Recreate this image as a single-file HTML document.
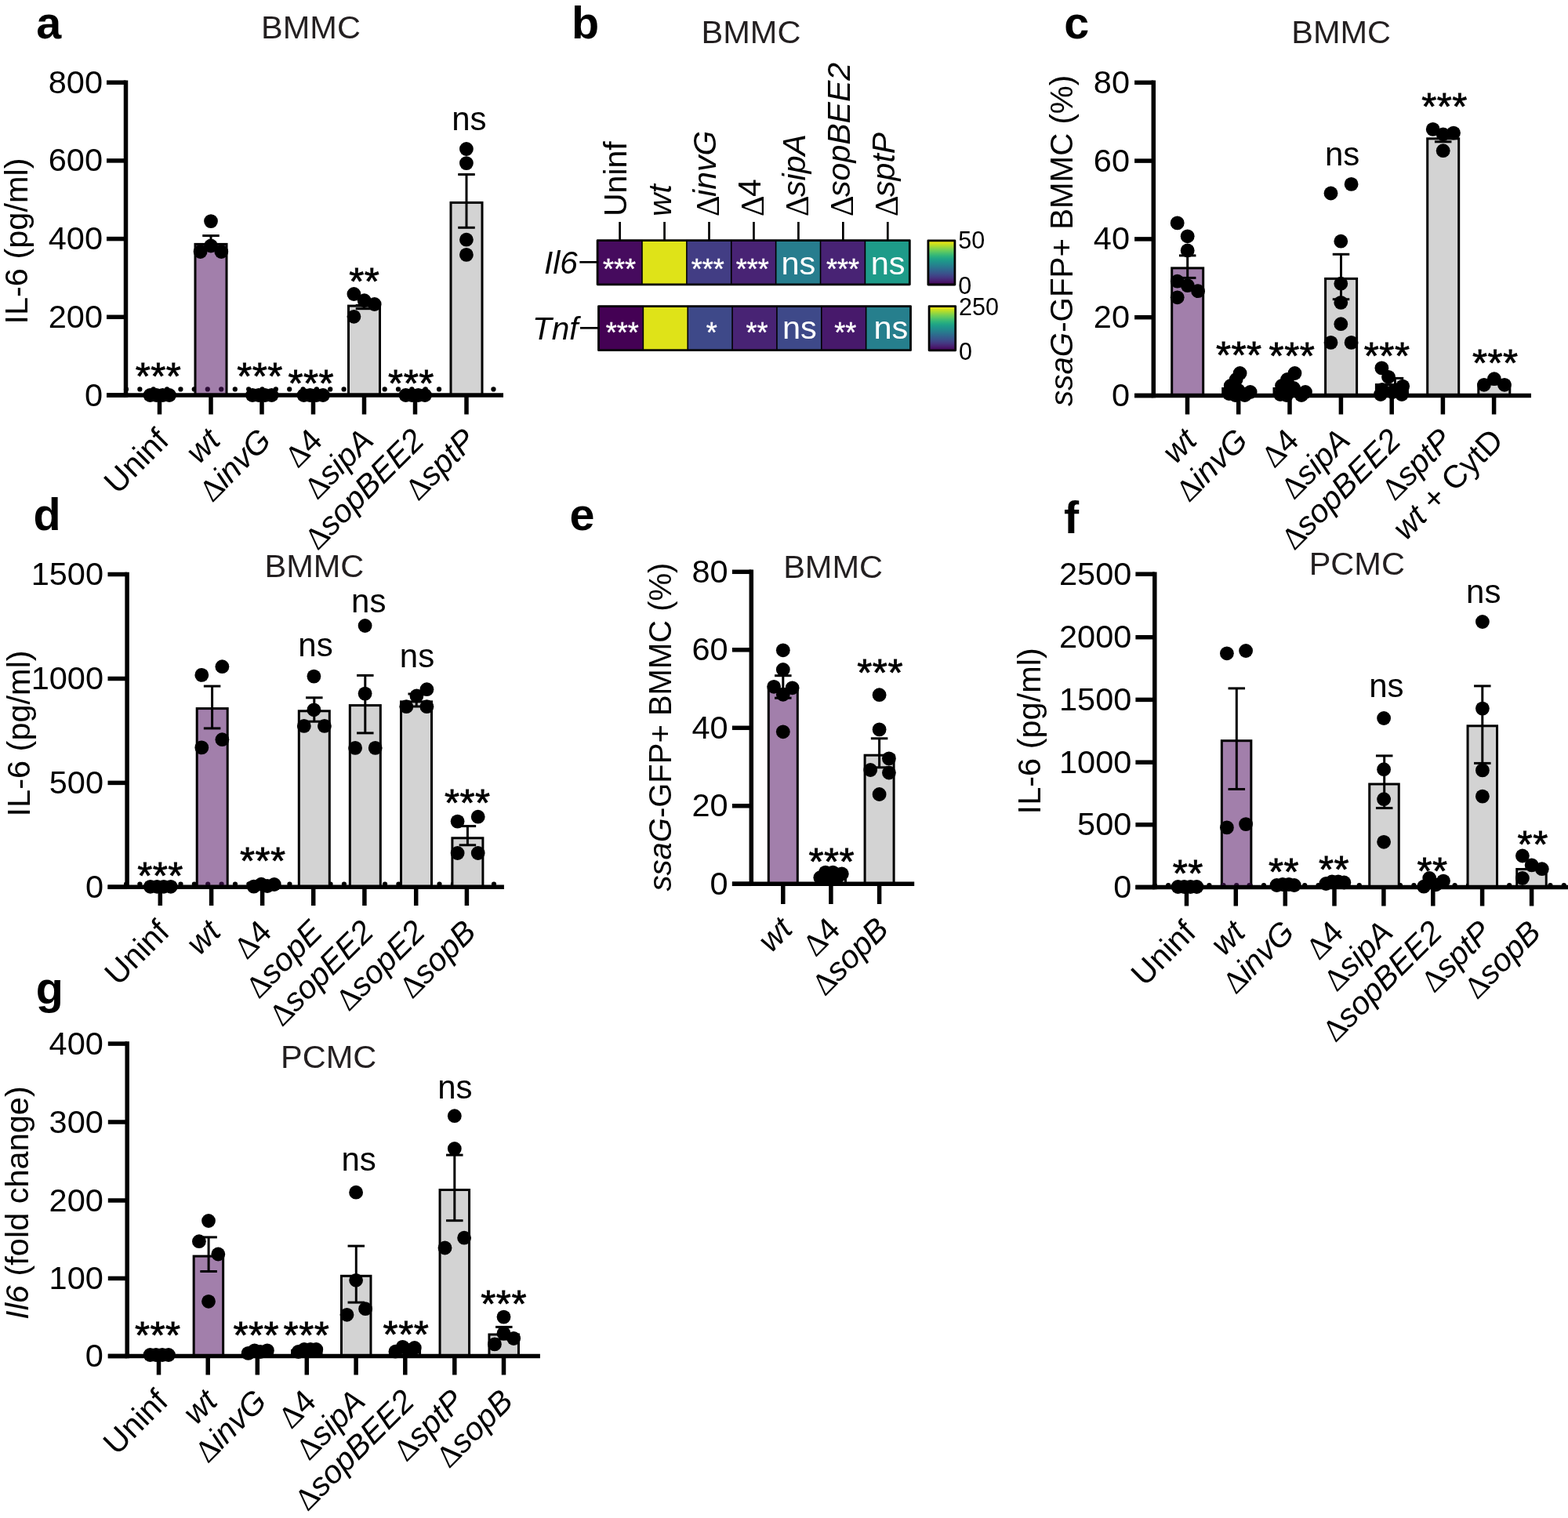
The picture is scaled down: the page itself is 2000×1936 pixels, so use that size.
<!DOCTYPE html>
<html><head><meta charset="utf-8"><style>
html,body{margin:0;padding:0;background:#fff;}
svg{display:block;}
text{font-family:'Liberation Sans', Arial, Helvetica, sans-serif;}
.dl{font-family:'Liberation Serif','Times New Roman',serif;font-style:normal;}
</style></head><body>
<svg width="2000" height="1936" viewBox="0 0 2000 1936">
<rect width="2000" height="1936" fill="#fff"/>
<text x="46.3" y="48.6" font-size="57.5" text-anchor="start" fill="#000" font-weight="bold">a</text>
<text x="396.5" y="48.6" font-size="41.5" text-anchor="middle" fill="#231f20">BMMC</text>
<text x="35" y="307.5" font-size="41.5" text-anchor="middle" fill="#000" transform="rotate(-90 35 307.5)">IL-6 (pg/ml)</text>
<circle cx="161" cy="496.4" r="3.1" fill="#000"/>
<circle cx="178.35" cy="496.4" r="3.1" fill="#000"/>
<circle cx="195.7" cy="496.4" r="3.1" fill="#000"/>
<circle cx="213.05" cy="496.4" r="3.1" fill="#000"/>
<circle cx="230.4" cy="496.4" r="3.1" fill="#000"/>
<circle cx="247.75" cy="496.4" r="3.1" fill="#000"/>
<circle cx="265.1" cy="496.4" r="3.1" fill="#000"/>
<circle cx="282.45" cy="496.4" r="3.1" fill="#000"/>
<circle cx="299.8" cy="496.4" r="3.1" fill="#000"/>
<circle cx="317.15" cy="496.4" r="3.1" fill="#000"/>
<circle cx="334.5" cy="496.4" r="3.1" fill="#000"/>
<circle cx="351.85" cy="496.4" r="3.1" fill="#000"/>
<circle cx="369.2" cy="496.4" r="3.1" fill="#000"/>
<circle cx="386.55" cy="496.4" r="3.1" fill="#000"/>
<circle cx="403.9" cy="496.4" r="3.1" fill="#000"/>
<circle cx="421.25" cy="496.4" r="3.1" fill="#000"/>
<circle cx="438.6" cy="496.4" r="3.1" fill="#000"/>
<circle cx="455.95" cy="496.4" r="3.1" fill="#000"/>
<circle cx="473.3" cy="496.4" r="3.1" fill="#000"/>
<circle cx="490.65" cy="496.4" r="3.1" fill="#000"/>
<circle cx="508" cy="496.4" r="3.1" fill="#000"/>
<circle cx="525.35" cy="496.4" r="3.1" fill="#000"/>
<circle cx="542.7" cy="496.4" r="3.1" fill="#000"/>
<circle cx="560.05" cy="496.4" r="3.1" fill="#000"/>
<circle cx="577.4" cy="496.4" r="3.1" fill="#000"/>
<circle cx="594.75" cy="496.4" r="3.1" fill="#000"/>
<circle cx="612.1" cy="496.4" r="3.1" fill="#000"/>
<circle cx="629.45" cy="496.4" r="3.1" fill="#000"/>
<rect x="249" y="311.4" width="40" height="192.6" fill="#a27fab" stroke="#000" stroke-width="3"/>
<rect x="444.5" y="390.1" width="40" height="113.9" fill="#d3d3d3" stroke="#000" stroke-width="3"/>
<rect x="575" y="258.4" width="40" height="245.6" fill="#d3d3d3" stroke="#000" stroke-width="3"/>
<circle cx="264.8" cy="496.4" r="3.1" fill="#2b0b35"/>
<circle cx="282.2" cy="496.4" r="3.1" fill="#2b0b35"/>
<line x1="160.5" y1="102.45" x2="160.5" y2="506.75" stroke="#000" stroke-width="5.5" stroke-linecap="butt"/>
<line x1="136" y1="504" x2="160.5" y2="504" stroke="#000" stroke-width="5.5" stroke-linecap="butt"/>
<text x="131" y="517.53" font-size="41.5" text-anchor="end" fill="#000">0</text>
<line x1="136" y1="404.3" x2="160.5" y2="404.3" stroke="#000" stroke-width="5.5" stroke-linecap="butt"/>
<text x="131" y="417.83" font-size="41.5" text-anchor="end" fill="#000">200</text>
<line x1="136" y1="304.6" x2="160.5" y2="304.6" stroke="#000" stroke-width="5.5" stroke-linecap="butt"/>
<text x="131" y="318.13" font-size="41.5" text-anchor="end" fill="#000">400</text>
<line x1="136" y1="204.9" x2="160.5" y2="204.9" stroke="#000" stroke-width="5.5" stroke-linecap="butt"/>
<text x="131" y="218.43" font-size="41.5" text-anchor="end" fill="#000">600</text>
<line x1="136" y1="105.2" x2="160.5" y2="105.2" stroke="#000" stroke-width="5.5" stroke-linecap="butt"/>
<text x="131" y="118.73" font-size="41.5" text-anchor="end" fill="#000">800</text>
<line x1="136" y1="504" x2="642" y2="504" stroke="#000" stroke-width="5.5" stroke-linecap="butt"/>
<line x1="203.5" y1="504" x2="203.5" y2="528.5" stroke="#000" stroke-width="5.5" stroke-linecap="butt"/>
<line x1="269" y1="504" x2="269" y2="528.5" stroke="#000" stroke-width="5.5" stroke-linecap="butt"/>
<line x1="334" y1="504" x2="334" y2="528.5" stroke="#000" stroke-width="5.5" stroke-linecap="butt"/>
<line x1="399.5" y1="504" x2="399.5" y2="528.5" stroke="#000" stroke-width="5.5" stroke-linecap="butt"/>
<line x1="464.5" y1="504" x2="464.5" y2="528.5" stroke="#000" stroke-width="5.5" stroke-linecap="butt"/>
<line x1="529.5" y1="504" x2="529.5" y2="528.5" stroke="#000" stroke-width="5.5" stroke-linecap="butt"/>
<line x1="595" y1="504" x2="595" y2="528.5" stroke="#000" stroke-width="5.5" stroke-linecap="butt"/>
<line x1="269" y1="300.6" x2="269" y2="318" stroke="#000" stroke-width="3" stroke-linecap="butt"/>
<line x1="258.25" y1="300.6" x2="279.75" y2="300.6" stroke="#000" stroke-width="3" stroke-linecap="butt"/>
<line x1="258.25" y1="318" x2="279.75" y2="318" stroke="#000" stroke-width="3" stroke-linecap="butt"/>
<line x1="464.5" y1="389.4" x2="464.5" y2="393.7" stroke="#000" stroke-width="3" stroke-linecap="butt"/>
<line x1="453.75" y1="389.4" x2="475.25" y2="389.4" stroke="#000" stroke-width="3" stroke-linecap="butt"/>
<line x1="453.75" y1="393.7" x2="475.25" y2="393.7" stroke="#000" stroke-width="3" stroke-linecap="butt"/>
<line x1="595" y1="222.5" x2="595" y2="290.3" stroke="#000" stroke-width="3" stroke-linecap="butt"/>
<line x1="584.25" y1="222.5" x2="605.75" y2="222.5" stroke="#000" stroke-width="3" stroke-linecap="butt"/>
<line x1="584.25" y1="290.3" x2="605.75" y2="290.3" stroke="#000" stroke-width="3" stroke-linecap="butt"/>
<circle cx="191.5" cy="504" r="8.9" fill="#000"/>
<circle cx="199.5" cy="504" r="8.9" fill="#000"/>
<circle cx="207.5" cy="504" r="8.9" fill="#000"/>
<circle cx="216" cy="504" r="8.9" fill="#000"/>
<circle cx="255.6" cy="321" r="8.9" fill="#000"/>
<circle cx="269" cy="313.5" r="8.9" fill="#000"/>
<circle cx="282.3" cy="321" r="8.9" fill="#000"/>
<circle cx="269" cy="282.1" r="8.9" fill="#000"/>
<circle cx="322" cy="504" r="8.9" fill="#000"/>
<circle cx="330" cy="504" r="8.9" fill="#000"/>
<circle cx="338" cy="504" r="8.9" fill="#000"/>
<circle cx="346.5" cy="504" r="8.9" fill="#000"/>
<circle cx="387.5" cy="504" r="8.9" fill="#000"/>
<circle cx="395.5" cy="504" r="8.9" fill="#000"/>
<circle cx="403.5" cy="504" r="8.9" fill="#000"/>
<circle cx="412" cy="504" r="8.9" fill="#000"/>
<circle cx="451.4" cy="375" r="8.9" fill="#000"/>
<circle cx="464.7" cy="383.2" r="8.9" fill="#000"/>
<circle cx="477.7" cy="388" r="8.9" fill="#000"/>
<circle cx="451.4" cy="403.8" r="8.9" fill="#000"/>
<circle cx="517.5" cy="504" r="8.9" fill="#000"/>
<circle cx="525.5" cy="504" r="8.9" fill="#000"/>
<circle cx="533.5" cy="504" r="8.9" fill="#000"/>
<circle cx="542" cy="504" r="8.9" fill="#000"/>
<circle cx="594.9" cy="190" r="8.9" fill="#000"/>
<circle cx="594.9" cy="208.1" r="8.9" fill="#000"/>
<circle cx="594.9" cy="305.7" r="8.9" fill="#000"/>
<circle cx="594.9" cy="324.9" r="8.9" fill="#000"/>
<text x="202.05" y="495.75" font-size="49" text-anchor="middle" fill="#000" stroke="#000" stroke-width="0.8" letter-spacing="0.5">***</text>
<text x="331.55" y="495.75" font-size="49" text-anchor="middle" fill="#000" stroke="#000" stroke-width="0.8" letter-spacing="0.5">***</text>
<text x="396.85" y="504.75" font-size="49" text-anchor="middle" fill="#000" stroke="#000" stroke-width="0.8" letter-spacing="0.5">***</text>
<text x="464.75" y="375.35" font-size="49" text-anchor="middle" fill="#000" stroke="#000" stroke-width="0.8" letter-spacing="0.5">**</text>
<text x="524.45" y="504.75" font-size="49" text-anchor="middle" fill="#000" stroke="#000" stroke-width="0.8" letter-spacing="0.5">***</text>
<text x="598.4" y="166" font-size="42" text-anchor="middle" fill="#000">ns</text>
<text x="217.5" y="564" font-size="41" text-anchor="end" fill="#000" transform="rotate(-45 217.5 564)">Uninf</text>
<text x="283" y="564" font-size="41" text-anchor="end" fill="#000" transform="rotate(-45 283 564)"><tspan font-style="italic">wt</tspan></text>
<text x="348" y="564" font-size="41" text-anchor="end" fill="#000" transform="rotate(-45 348 564)"><tspan class="dl" font-size="40" dy="0.3">Δ</tspan><tspan dx="-0.5" dy="-0.3"><tspan font-style="italic">invG</tspan></tspan></text>
<text x="413.5" y="564" font-size="41" text-anchor="end" fill="#000" transform="rotate(-45 413.5 564)"><tspan class="dl" font-size="40" dy="0.3">Δ</tspan><tspan dx="-0.5" dy="-0.3">4</tspan></text>
<text x="478.5" y="564" font-size="41" text-anchor="end" fill="#000" transform="rotate(-45 478.5 564)"><tspan class="dl" font-size="40" dy="0.3">Δ</tspan><tspan dx="-0.5" dy="-0.3"><tspan font-style="italic">sipA</tspan></tspan></text>
<text x="543.5" y="564" font-size="41" text-anchor="end" fill="#000" transform="rotate(-45 543.5 564)"><tspan class="dl" font-size="40" dy="0.3">Δ</tspan><tspan dx="-0.5" dy="-0.3"><tspan font-style="italic">sopBEE2</tspan></tspan></text>
<text x="609" y="564" font-size="41" text-anchor="end" fill="#000" transform="rotate(-45 609 564)"><tspan class="dl" font-size="40" dy="0.3">Δ</tspan><tspan dx="-0.5" dy="-0.3"><tspan font-style="italic">sptP</tspan></tspan></text>
<text x="729" y="48.7" font-size="57.5" text-anchor="start" fill="#000" font-weight="bold">b</text>
<text x="958" y="55.4" font-size="41.5" text-anchor="middle" fill="#231f20">BMMC</text>
<text x="799.2" y="276" font-size="41" text-anchor="start" fill="#000" transform="rotate(-90 799.2 276)">Uninf</text>
<line x1="790.6" y1="283" x2="790.6" y2="306" stroke="#000" stroke-width="2.7" stroke-linecap="butt"/>
<text x="856.15" y="276" font-size="41" text-anchor="start" fill="#000" transform="rotate(-90 856.15 276)"><tspan font-style="italic">wt</tspan></text>
<line x1="847.55" y1="283" x2="847.55" y2="306" stroke="#000" stroke-width="2.7" stroke-linecap="butt"/>
<text x="913.1" y="276" font-size="41" text-anchor="start" fill="#000" transform="rotate(-90 913.1 276)"><tspan class="dl" font-size="41.4" dy="3.8">Δ</tspan><tspan dx="-1.5" dy="-3.8"><tspan font-style="italic">invG</tspan></tspan></text>
<line x1="904.5" y1="283" x2="904.5" y2="306" stroke="#000" stroke-width="2.7" stroke-linecap="butt"/>
<text x="970.05" y="276" font-size="41" text-anchor="start" fill="#000" transform="rotate(-90 970.05 276)"><tspan class="dl" font-size="41.4" dy="3.8">Δ</tspan><tspan dx="-1.5" dy="-3.8">4</tspan></text>
<line x1="961.45" y1="283" x2="961.45" y2="306" stroke="#000" stroke-width="2.7" stroke-linecap="butt"/>
<text x="1027" y="276" font-size="41" text-anchor="start" fill="#000" transform="rotate(-90 1027 276)"><tspan class="dl" font-size="41.4" dy="3.8">Δ</tspan><tspan dx="-1.5" dy="-3.8"><tspan font-style="italic">sipA</tspan></tspan></text>
<line x1="1018.4" y1="283" x2="1018.4" y2="306" stroke="#000" stroke-width="2.7" stroke-linecap="butt"/>
<text x="1083.95" y="276" font-size="41" text-anchor="start" fill="#000" transform="rotate(-90 1083.95 276)"><tspan class="dl" font-size="41.4" dy="3.8">Δ</tspan><tspan dx="-1.5" dy="-3.8"><tspan font-style="italic">sopBEE2</tspan></tspan></text>
<line x1="1075.35" y1="283" x2="1075.35" y2="306" stroke="#000" stroke-width="2.7" stroke-linecap="butt"/>
<text x="1140.9" y="276" font-size="41" text-anchor="start" fill="#000" transform="rotate(-90 1140.9 276)"><tspan class="dl" font-size="41.4" dy="3.8">Δ</tspan><tspan dx="-1.5" dy="-3.8"><tspan font-style="italic">sptP</tspan></tspan></text>
<line x1="1132.3" y1="283" x2="1132.3" y2="306" stroke="#000" stroke-width="2.7" stroke-linecap="butt"/>
<rect x="762.1" y="306.6" width="57.19" height="56.2" fill="#460b5e"/>
<rect x="818.99" y="306.6" width="57.19" height="56.2" fill="#dfe318"/>
<rect x="875.87" y="306.6" width="57.19" height="56.2" fill="#423d84"/>
<rect x="932.76" y="306.6" width="57.19" height="56.2" fill="#482374"/>
<rect x="989.64" y="306.6" width="57.19" height="56.2" fill="#277d8e"/>
<rect x="1046.53" y="306.6" width="57.19" height="56.2" fill="#482374"/>
<rect x="1103.41" y="306.6" width="57.19" height="56.2" fill="#1e9b89"/>
<line x1="818.99" y1="306.6" x2="818.99" y2="362.8" stroke="#000" stroke-width="1.6" stroke-linecap="butt"/>
<line x1="875.87" y1="306.6" x2="875.87" y2="362.8" stroke="#000" stroke-width="1.6" stroke-linecap="butt"/>
<line x1="932.76" y1="306.6" x2="932.76" y2="362.8" stroke="#000" stroke-width="1.6" stroke-linecap="butt"/>
<line x1="989.64" y1="306.6" x2="989.64" y2="362.8" stroke="#000" stroke-width="1.6" stroke-linecap="butt"/>
<line x1="1046.53" y1="306.6" x2="1046.53" y2="362.8" stroke="#000" stroke-width="1.6" stroke-linecap="butt"/>
<line x1="1103.41" y1="306.6" x2="1103.41" y2="362.8" stroke="#000" stroke-width="1.6" stroke-linecap="butt"/>
<rect x="762.1" y="306.6" width="398.2" height="56.2" fill="none" stroke="#000" stroke-width="2.8" stroke-linejoin="round"/>
<line x1="739.3" y1="334.3" x2="762.1" y2="334.3" stroke="#000" stroke-width="2.7" stroke-linecap="butt"/>
<text x="736.8" y="348.6" font-size="40.5" text-anchor="end" fill="#000"><tspan font-style="italic">Il6</tspan></text>
<text x="790" y="355.8" font-size="36" text-anchor="middle" fill="#fff" stroke="#fff" stroke-width="0.4">***</text>
<text x="902.8" y="355.8" font-size="36" text-anchor="middle" fill="#fff" stroke="#fff" stroke-width="0.4">***</text>
<text x="959.7" y="355.8" font-size="36" text-anchor="middle" fill="#fff" stroke="#fff" stroke-width="0.4">***</text>
<text x="1018.4" y="349.6" font-size="41.5" text-anchor="middle" fill="#fff">ns</text>
<text x="1075" y="355.8" font-size="36" text-anchor="middle" fill="#fff" stroke="#fff" stroke-width="0.4">***</text>
<text x="1132.7" y="349.6" font-size="41.5" text-anchor="middle" fill="#fff">ns</text>
<rect x="763.5" y="390.6" width="57.16" height="56.1" fill="#440154"/>
<rect x="820.36" y="390.6" width="57.16" height="56.1" fill="#dfe318"/>
<rect x="877.21" y="390.6" width="57.16" height="56.1" fill="#3e4989"/>
<rect x="934.07" y="390.6" width="57.16" height="56.1" fill="#482374"/>
<rect x="990.93" y="390.6" width="57.16" height="56.1" fill="#3e4989"/>
<rect x="1047.79" y="390.6" width="57.16" height="56.1" fill="#47196b"/>
<rect x="1104.64" y="390.6" width="57.16" height="56.1" fill="#267f8d"/>
<line x1="820.36" y1="390.6" x2="820.36" y2="446.7" stroke="#000" stroke-width="1.6" stroke-linecap="butt"/>
<line x1="877.21" y1="390.6" x2="877.21" y2="446.7" stroke="#000" stroke-width="1.6" stroke-linecap="butt"/>
<line x1="934.07" y1="390.6" x2="934.07" y2="446.7" stroke="#000" stroke-width="1.6" stroke-linecap="butt"/>
<line x1="990.93" y1="390.6" x2="990.93" y2="446.7" stroke="#000" stroke-width="1.6" stroke-linecap="butt"/>
<line x1="1047.79" y1="390.6" x2="1047.79" y2="446.7" stroke="#000" stroke-width="1.6" stroke-linecap="butt"/>
<line x1="1104.64" y1="390.6" x2="1104.64" y2="446.7" stroke="#000" stroke-width="1.6" stroke-linecap="butt"/>
<rect x="763.5" y="390.6" width="398" height="56.1" fill="none" stroke="#000" stroke-width="2.8" stroke-linejoin="round"/>
<line x1="740" y1="418.3" x2="763.5" y2="418.3" stroke="#000" stroke-width="2.7" stroke-linecap="butt"/>
<text x="737.5" y="432.9" font-size="40.5" text-anchor="end" fill="#000"><tspan font-style="italic">Tnf</tspan></text>
<text x="793.8" y="436.5" font-size="36" text-anchor="middle" fill="#fff" stroke="#fff" stroke-width="0.4">***</text>
<text x="907.8" y="436.5" font-size="36" text-anchor="middle" fill="#fff" stroke="#fff" stroke-width="0.4">*</text>
<text x="965.5" y="436.5" font-size="36" text-anchor="middle" fill="#fff" stroke="#fff" stroke-width="0.4">**</text>
<text x="1019.8" y="431.8" font-size="41.5" text-anchor="middle" fill="#fff">ns</text>
<text x="1078.3" y="436.5" font-size="36" text-anchor="middle" fill="#fff" stroke="#fff" stroke-width="0.4">**</text>
<text x="1136.4" y="431.8" font-size="41.5" text-anchor="middle" fill="#fff">ns</text>
<defs><linearGradient id="vgrad" x1="0" y1="0" x2="0" y2="1"><stop offset="0.00" stop-color="#fde724"/><stop offset="0.05" stop-color="#dfe318"/><stop offset="0.10" stop-color="#bdde26"/><stop offset="0.15" stop-color="#9ad83c"/><stop offset="0.20" stop-color="#79d151"/><stop offset="0.25" stop-color="#5ec961"/><stop offset="0.30" stop-color="#44be70"/><stop offset="0.35" stop-color="#2fb37b"/><stop offset="0.40" stop-color="#22a784"/><stop offset="0.45" stop-color="#1e9b89"/><stop offset="0.50" stop-color="#20908c"/><stop offset="0.55" stop-color="#24848d"/><stop offset="0.60" stop-color="#29788e"/><stop offset="0.65" stop-color="#2e6b8e"/><stop offset="0.70" stop-color="#345e8d"/><stop offset="0.75" stop-color="#3a528b"/><stop offset="0.80" stop-color="#404387"/><stop offset="0.85" stop-color="#45347f"/><stop offset="0.90" stop-color="#482374"/><stop offset="0.95" stop-color="#471265"/><stop offset="1.00" stop-color="#440154"/></linearGradient></defs>
<rect x="1183.9" y="306.8" width="34" height="56.2" fill="url(#vgrad)" stroke="#000" stroke-width="2.8" stroke-linejoin="round"/>
<text x="1222.3" y="317.2" font-size="30.5" text-anchor="start" fill="#000">50</text>
<text x="1222.3" y="374.5" font-size="30.5" text-anchor="start" fill="#000">0</text>
<rect x="1185.1" y="390.6" width="33.6" height="56.2" fill="url(#vgrad)" stroke="#000" stroke-width="2.8" stroke-linejoin="round"/>
<text x="1223.1" y="401.9" font-size="30.5" text-anchor="start" fill="#000">250</text>
<text x="1223.1" y="458.6" font-size="30.5" text-anchor="start" fill="#000">0</text>
<text x="1357.3" y="48.5" font-size="57.5" text-anchor="start" fill="#000" font-weight="bold">c</text>
<text x="1710.7" y="55.4" font-size="41.5" text-anchor="middle" fill="#231f20">BMMC</text>
<text x="1368" y="306.9" font-size="40.3" text-anchor="middle" fill="#000" transform="rotate(-90 1368 306.9)"><tspan font-style="italic">ssaG</tspan>-GFP+ BMMC (%)</text>
<rect x="1494.7" y="341.9" width="40" height="162.6" fill="#a27fab" stroke="#000" stroke-width="3"/>
<rect x="1559.7" y="495.5" width="40" height="9" fill="#d3d3d3" stroke="#000" stroke-width="3"/>
<rect x="1625" y="495.5" width="40" height="9" fill="#d3d3d3" stroke="#000" stroke-width="3"/>
<rect x="1690.6" y="355.4" width="40" height="149.1" fill="#d3d3d3" stroke="#000" stroke-width="3"/>
<rect x="1755.4" y="490.6" width="40" height="13.9" fill="#d3d3d3" stroke="#000" stroke-width="3"/>
<rect x="1820.7" y="176.8" width="40" height="327.7" fill="#d3d3d3" stroke="#000" stroke-width="3"/>
<rect x="1885.8" y="489.9" width="40" height="14.6" fill="#d3d3d3" stroke="#000" stroke-width="3"/>
<line x1="1471.3" y1="102.55" x2="1471.3" y2="507.25" stroke="#000" stroke-width="5.5" stroke-linecap="butt"/>
<line x1="1447.1" y1="504.5" x2="1471.3" y2="504.5" stroke="#000" stroke-width="5.5" stroke-linecap="butt"/>
<text x="1441" y="518.03" font-size="41.5" text-anchor="end" fill="#000">0</text>
<line x1="1447.1" y1="404.7" x2="1471.3" y2="404.7" stroke="#000" stroke-width="5.5" stroke-linecap="butt"/>
<text x="1441" y="418.23" font-size="41.5" text-anchor="end" fill="#000">20</text>
<line x1="1447.1" y1="304.9" x2="1471.3" y2="304.9" stroke="#000" stroke-width="5.5" stroke-linecap="butt"/>
<text x="1441" y="318.43" font-size="41.5" text-anchor="end" fill="#000">40</text>
<line x1="1447.1" y1="205.1" x2="1471.3" y2="205.1" stroke="#000" stroke-width="5.5" stroke-linecap="butt"/>
<text x="1441" y="218.63" font-size="41.5" text-anchor="end" fill="#000">60</text>
<line x1="1447.1" y1="105.3" x2="1471.3" y2="105.3" stroke="#000" stroke-width="5.5" stroke-linecap="butt"/>
<text x="1441" y="118.83" font-size="41.5" text-anchor="end" fill="#000">80</text>
<line x1="1447.1" y1="504.5" x2="1953" y2="504.5" stroke="#000" stroke-width="5.5" stroke-linecap="butt"/>
<line x1="1514.5" y1="504.5" x2="1514.5" y2="528.5" stroke="#000" stroke-width="5.5" stroke-linecap="butt"/>
<line x1="1579.7" y1="504.5" x2="1579.7" y2="528.5" stroke="#000" stroke-width="5.5" stroke-linecap="butt"/>
<line x1="1645" y1="504.5" x2="1645" y2="528.5" stroke="#000" stroke-width="5.5" stroke-linecap="butt"/>
<line x1="1710.4" y1="504.5" x2="1710.4" y2="528.5" stroke="#000" stroke-width="5.5" stroke-linecap="butt"/>
<line x1="1775.2" y1="504.5" x2="1775.2" y2="528.5" stroke="#000" stroke-width="5.5" stroke-linecap="butt"/>
<line x1="1840.4" y1="504.5" x2="1840.4" y2="528.5" stroke="#000" stroke-width="5.5" stroke-linecap="butt"/>
<line x1="1905.6" y1="504.5" x2="1905.6" y2="528.5" stroke="#000" stroke-width="5.5" stroke-linecap="butt"/>
<line x1="1514.7" y1="325.9" x2="1514.7" y2="354.4" stroke="#000" stroke-width="3" stroke-linecap="butt"/>
<line x1="1503.95" y1="325.9" x2="1525.45" y2="325.9" stroke="#000" stroke-width="3" stroke-linecap="butt"/>
<line x1="1503.95" y1="354.4" x2="1525.45" y2="354.4" stroke="#000" stroke-width="3" stroke-linecap="butt"/>
<line x1="1710.5" y1="324.3" x2="1710.5" y2="381.7" stroke="#000" stroke-width="3" stroke-linecap="butt"/>
<line x1="1699.75" y1="324.3" x2="1721.25" y2="324.3" stroke="#000" stroke-width="3" stroke-linecap="butt"/>
<line x1="1699.75" y1="381.7" x2="1721.25" y2="381.7" stroke="#000" stroke-width="3" stroke-linecap="butt"/>
<line x1="1840.7" y1="168" x2="1840.7" y2="180.8" stroke="#000" stroke-width="3" stroke-linecap="butt"/>
<line x1="1829.95" y1="168" x2="1851.45" y2="168" stroke="#000" stroke-width="3" stroke-linecap="butt"/>
<line x1="1829.95" y1="180.8" x2="1851.45" y2="180.8" stroke="#000" stroke-width="3" stroke-linecap="butt"/>
<line x1="1779.5" y1="482.4" x2="1779.5" y2="495" stroke="#000" stroke-width="3" stroke-linecap="butt"/>
<line x1="1768.75" y1="482.4" x2="1790.25" y2="482.4" stroke="#000" stroke-width="3" stroke-linecap="butt"/>
<line x1="1768.75" y1="495" x2="1790.25" y2="495" stroke="#000" stroke-width="3" stroke-linecap="butt"/>
<circle cx="1501.7" cy="284.4" r="8.9" fill="#000"/>
<circle cx="1514.7" cy="301.3" r="8.9" fill="#000"/>
<circle cx="1514.7" cy="319.5" r="8.9" fill="#000"/>
<circle cx="1501.7" cy="358.7" r="8.9" fill="#000"/>
<circle cx="1514.7" cy="364.1" r="8.9" fill="#000"/>
<circle cx="1528.1" cy="371.2" r="8.9" fill="#000"/>
<circle cx="1501.7" cy="379.3" r="8.9" fill="#000"/>
<circle cx="1581.6" cy="476" r="8.9" fill="#000"/>
<circle cx="1576.7" cy="484" r="8.9" fill="#000"/>
<circle cx="1569.7" cy="492" r="8.9" fill="#000"/>
<circle cx="1567.7" cy="502" r="8.9" fill="#000"/>
<circle cx="1579.7" cy="498" r="8.9" fill="#000"/>
<circle cx="1587.7" cy="504" r="8.9" fill="#000"/>
<circle cx="1594.7" cy="500" r="8.9" fill="#000"/>
<circle cx="1575.7" cy="504" r="8.9" fill="#000"/>
<circle cx="1651.5" cy="476" r="8.9" fill="#000"/>
<circle cx="1642" cy="484" r="8.9" fill="#000"/>
<circle cx="1635" cy="492" r="8.9" fill="#000"/>
<circle cx="1633" cy="503" r="8.9" fill="#000"/>
<circle cx="1650" cy="495" r="8.9" fill="#000"/>
<circle cx="1660" cy="504" r="8.9" fill="#000"/>
<circle cx="1665" cy="500" r="8.9" fill="#000"/>
<circle cx="1641" cy="504" r="8.9" fill="#000"/>
<circle cx="1697.5" cy="246.5" r="8.9" fill="#000"/>
<circle cx="1723.6" cy="234.9" r="8.9" fill="#000"/>
<circle cx="1710.3" cy="307.7" r="8.9" fill="#000"/>
<circle cx="1710.3" cy="361.7" r="8.9" fill="#000"/>
<circle cx="1710.3" cy="385.9" r="8.9" fill="#000"/>
<circle cx="1710.3" cy="413.2" r="8.9" fill="#000"/>
<circle cx="1697.5" cy="436.9" r="8.9" fill="#000"/>
<circle cx="1723.6" cy="436.9" r="8.9" fill="#000"/>
<circle cx="1762.4" cy="469.4" r="8.9" fill="#000"/>
<circle cx="1771" cy="480.8" r="8.9" fill="#000"/>
<circle cx="1789.2" cy="492.6" r="8.9" fill="#000"/>
<circle cx="1763" cy="497" r="8.9" fill="#000"/>
<circle cx="1776" cy="500" r="8.9" fill="#000"/>
<circle cx="1788" cy="503" r="8.9" fill="#000"/>
<circle cx="1761" cy="503" r="8.9" fill="#000"/>
<circle cx="1827.7" cy="164.9" r="8.9" fill="#000"/>
<circle cx="1840.7" cy="171.3" r="8.9" fill="#000"/>
<circle cx="1854" cy="169.6" r="8.9" fill="#000"/>
<circle cx="1840.7" cy="192.2" r="8.9" fill="#000"/>
<circle cx="1892.9" cy="490.8" r="8.9" fill="#000"/>
<circle cx="1905.9" cy="483.2" r="8.9" fill="#000"/>
<circle cx="1919" cy="490.8" r="8.9" fill="#000"/>
<text x="1580.25" y="469.25" font-size="49" text-anchor="middle" fill="#000" stroke="#000" stroke-width="0.8" letter-spacing="0.5">***</text>
<text x="1647.95" y="470.15" font-size="49" text-anchor="middle" fill="#000" stroke="#000" stroke-width="0.8" letter-spacing="0.5">***</text>
<text x="1712.2" y="210.9" font-size="42" text-anchor="middle" fill="#000">ns</text>
<text x="1769.15" y="470.35" font-size="49" text-anchor="middle" fill="#000" stroke="#000" stroke-width="0.8" letter-spacing="0.5">***</text>
<text x="1842.55" y="151.85" font-size="49" text-anchor="middle" fill="#000" stroke="#000" stroke-width="0.8" letter-spacing="0.5">***</text>
<text x="1907.25" y="479.15" font-size="49" text-anchor="middle" fill="#000" stroke="#000" stroke-width="0.8" letter-spacing="0.5">***</text>
<text x="1528.5" y="564" font-size="41" text-anchor="end" fill="#000" transform="rotate(-45 1528.5 564)"><tspan font-style="italic">wt</tspan></text>
<text x="1593.7" y="564" font-size="41" text-anchor="end" fill="#000" transform="rotate(-45 1593.7 564)"><tspan class="dl" font-size="40" dy="0.3">Δ</tspan><tspan dx="-0.5" dy="-0.3"><tspan font-style="italic">invG</tspan></tspan></text>
<text x="1659" y="564" font-size="41" text-anchor="end" fill="#000" transform="rotate(-45 1659 564)"><tspan class="dl" font-size="40" dy="0.3">Δ</tspan><tspan dx="-0.5" dy="-0.3">4</tspan></text>
<text x="1724.4" y="564" font-size="41" text-anchor="end" fill="#000" transform="rotate(-45 1724.4 564)"><tspan class="dl" font-size="40" dy="0.3">Δ</tspan><tspan dx="-0.5" dy="-0.3"><tspan font-style="italic">sipA</tspan></tspan></text>
<text x="1789.2" y="564" font-size="41" text-anchor="end" fill="#000" transform="rotate(-45 1789.2 564)"><tspan class="dl" font-size="40" dy="0.3">Δ</tspan><tspan dx="-0.5" dy="-0.3"><tspan font-style="italic">sopBEE2</tspan></tspan></text>
<text x="1854.4" y="564" font-size="41" text-anchor="end" fill="#000" transform="rotate(-45 1854.4 564)"><tspan class="dl" font-size="40" dy="0.3">Δ</tspan><tspan dx="-0.5" dy="-0.3"><tspan font-style="italic">sptP</tspan></tspan></text>
<text x="1919.6" y="564" font-size="41" text-anchor="end" fill="#000" transform="rotate(-45 1919.6 564)"><tspan font-style="italic">wt</tspan> + CytD</text>
<text x="42.5" y="675.8" font-size="57.5" text-anchor="start" fill="#000" font-weight="bold">d</text>
<text x="400.9" y="736" font-size="41.5" text-anchor="middle" fill="#231f20">BMMC</text>
<text x="37.9" y="935.4" font-size="41.5" text-anchor="middle" fill="#000" transform="rotate(-90 37.9 935.4)">IL-6 (pg/ml)</text>
<circle cx="161" cy="1127.5" r="3.1" fill="#000"/>
<circle cx="178.37" cy="1127.5" r="3.1" fill="#000"/>
<circle cx="195.74" cy="1127.5" r="3.1" fill="#000"/>
<circle cx="213.11" cy="1127.5" r="3.1" fill="#000"/>
<circle cx="230.48" cy="1127.5" r="3.1" fill="#000"/>
<circle cx="247.85" cy="1127.5" r="3.1" fill="#000"/>
<circle cx="265.22" cy="1127.5" r="3.1" fill="#000"/>
<circle cx="282.59" cy="1127.5" r="3.1" fill="#000"/>
<circle cx="299.96" cy="1127.5" r="3.1" fill="#000"/>
<circle cx="317.33" cy="1127.5" r="3.1" fill="#000"/>
<circle cx="334.7" cy="1127.5" r="3.1" fill="#000"/>
<circle cx="352.07" cy="1127.5" r="3.1" fill="#000"/>
<circle cx="369.44" cy="1127.5" r="3.1" fill="#000"/>
<circle cx="386.81" cy="1127.5" r="3.1" fill="#000"/>
<circle cx="404.18" cy="1127.5" r="3.1" fill="#000"/>
<circle cx="421.55" cy="1127.5" r="3.1" fill="#000"/>
<circle cx="438.92" cy="1127.5" r="3.1" fill="#000"/>
<circle cx="456.29" cy="1127.5" r="3.1" fill="#000"/>
<circle cx="473.66" cy="1127.5" r="3.1" fill="#000"/>
<circle cx="491.03" cy="1127.5" r="3.1" fill="#000"/>
<circle cx="508.4" cy="1127.5" r="3.1" fill="#000"/>
<circle cx="525.77" cy="1127.5" r="3.1" fill="#000"/>
<circle cx="543.14" cy="1127.5" r="3.1" fill="#000"/>
<circle cx="560.51" cy="1127.5" r="3.1" fill="#000"/>
<circle cx="577.88" cy="1127.5" r="3.1" fill="#000"/>
<circle cx="595.25" cy="1127.5" r="3.1" fill="#000"/>
<circle cx="612.62" cy="1127.5" r="3.1" fill="#000"/>
<circle cx="629.99" cy="1127.5" r="3.1" fill="#000"/>
<rect x="251.2" y="903.6" width="39" height="227.7" fill="#a27fab" stroke="#000" stroke-width="3"/>
<rect x="381.3" y="906.8" width="39" height="224.5" fill="#d3d3d3" stroke="#000" stroke-width="3"/>
<rect x="446.3" y="899.6" width="39" height="231.7" fill="#d3d3d3" stroke="#000" stroke-width="3"/>
<rect x="511.5" y="894.9" width="39" height="236.4" fill="#d3d3d3" stroke="#000" stroke-width="3"/>
<rect x="576.9" y="1068.8" width="39" height="62.5" fill="#d3d3d3" stroke="#000" stroke-width="3"/>
<circle cx="265.2" cy="1127.5" r="3.1" fill="#2b0b35"/>
<circle cx="282.6" cy="1127.5" r="3.1" fill="#2b0b35"/>
<line x1="162.1" y1="729.75" x2="162.1" y2="1134.05" stroke="#000" stroke-width="5.5" stroke-linecap="butt"/>
<line x1="137.5" y1="1131.3" x2="162.1" y2="1131.3" stroke="#000" stroke-width="5.5" stroke-linecap="butt"/>
<text x="132" y="1144.83" font-size="41.5" text-anchor="end" fill="#000">0</text>
<line x1="137.5" y1="998.4" x2="162.1" y2="998.4" stroke="#000" stroke-width="5.5" stroke-linecap="butt"/>
<text x="132" y="1011.93" font-size="41.5" text-anchor="end" fill="#000">500</text>
<line x1="137.5" y1="865.5" x2="162.1" y2="865.5" stroke="#000" stroke-width="5.5" stroke-linecap="butt"/>
<text x="132" y="879.03" font-size="41.5" text-anchor="end" fill="#000">1000</text>
<line x1="137.5" y1="732.5" x2="162.1" y2="732.5" stroke="#000" stroke-width="5.5" stroke-linecap="butt"/>
<text x="132" y="746.03" font-size="41.5" text-anchor="end" fill="#000">1500</text>
<line x1="137.5" y1="1131.3" x2="642.9" y2="1131.3" stroke="#000" stroke-width="5.5" stroke-linecap="butt"/>
<line x1="204.3" y1="1131.3" x2="204.3" y2="1155" stroke="#000" stroke-width="5.5" stroke-linecap="butt"/>
<line x1="269.6" y1="1131.3" x2="269.6" y2="1155" stroke="#000" stroke-width="5.5" stroke-linecap="butt"/>
<line x1="334.6" y1="1131.3" x2="334.6" y2="1155" stroke="#000" stroke-width="5.5" stroke-linecap="butt"/>
<line x1="399.7" y1="1131.3" x2="399.7" y2="1155" stroke="#000" stroke-width="5.5" stroke-linecap="butt"/>
<line x1="464.9" y1="1131.3" x2="464.9" y2="1155" stroke="#000" stroke-width="5.5" stroke-linecap="butt"/>
<line x1="530.7" y1="1131.3" x2="530.7" y2="1155" stroke="#000" stroke-width="5.5" stroke-linecap="butt"/>
<line x1="595.4" y1="1131.3" x2="595.4" y2="1155" stroke="#000" stroke-width="5.5" stroke-linecap="butt"/>
<line x1="270.6" y1="875.1" x2="270.6" y2="928.9" stroke="#000" stroke-width="3" stroke-linecap="butt"/>
<line x1="259.85" y1="875.1" x2="281.35" y2="875.1" stroke="#000" stroke-width="3" stroke-linecap="butt"/>
<line x1="259.85" y1="928.9" x2="281.35" y2="928.9" stroke="#000" stroke-width="3" stroke-linecap="butt"/>
<line x1="400.8" y1="889.8" x2="400.8" y2="920.2" stroke="#000" stroke-width="3" stroke-linecap="butt"/>
<line x1="390.05" y1="889.8" x2="411.55" y2="889.8" stroke="#000" stroke-width="3" stroke-linecap="butt"/>
<line x1="390.05" y1="920.2" x2="411.55" y2="920.2" stroke="#000" stroke-width="3" stroke-linecap="butt"/>
<line x1="465.8" y1="861.4" x2="465.8" y2="934.9" stroke="#000" stroke-width="3" stroke-linecap="butt"/>
<line x1="455.05" y1="861.4" x2="476.55" y2="861.4" stroke="#000" stroke-width="3" stroke-linecap="butt"/>
<line x1="455.05" y1="934.9" x2="476.55" y2="934.9" stroke="#000" stroke-width="3" stroke-linecap="butt"/>
<line x1="531.2" y1="885" x2="531.2" y2="901" stroke="#000" stroke-width="3" stroke-linecap="butt"/>
<line x1="520.45" y1="885" x2="541.95" y2="885" stroke="#000" stroke-width="3" stroke-linecap="butt"/>
<line x1="520.45" y1="901" x2="541.95" y2="901" stroke="#000" stroke-width="3" stroke-linecap="butt"/>
<line x1="596.4" y1="1053.6" x2="596.4" y2="1077.8" stroke="#000" stroke-width="3" stroke-linecap="butt"/>
<line x1="585.65" y1="1053.6" x2="607.15" y2="1053.6" stroke="#000" stroke-width="3" stroke-linecap="butt"/>
<line x1="585.65" y1="1077.8" x2="607.15" y2="1077.8" stroke="#000" stroke-width="3" stroke-linecap="butt"/>
<circle cx="191.8" cy="1130.8" r="8.9" fill="#000"/>
<circle cx="200.3" cy="1130.8" r="8.9" fill="#000"/>
<circle cx="208.8" cy="1130.8" r="8.9" fill="#000"/>
<circle cx="217.8" cy="1130.8" r="8.9" fill="#000"/>
<circle cx="323.7" cy="1130.6" r="8.9" fill="#000"/>
<circle cx="333.2" cy="1127.7" r="8.9" fill="#000"/>
<circle cx="349.8" cy="1128" r="8.9" fill="#000"/>
<circle cx="341" cy="1130" r="8.9" fill="#000"/>
<circle cx="257.3" cy="860.9" r="8.9" fill="#000"/>
<circle cx="283.4" cy="850.2" r="8.9" fill="#000"/>
<circle cx="257.3" cy="953.4" r="8.9" fill="#000"/>
<circle cx="283.4" cy="943.2" r="8.9" fill="#000"/>
<circle cx="400.4" cy="862.6" r="8.9" fill="#000"/>
<circle cx="400.4" cy="905.3" r="8.9" fill="#000"/>
<circle cx="387.8" cy="925.9" r="8.9" fill="#000"/>
<circle cx="413.9" cy="925.9" r="8.9" fill="#000"/>
<circle cx="465.6" cy="798" r="8.9" fill="#000"/>
<circle cx="465.6" cy="884.6" r="8.9" fill="#000"/>
<circle cx="453.1" cy="953.9" r="8.9" fill="#000"/>
<circle cx="478.7" cy="953.9" r="8.9" fill="#000"/>
<circle cx="531.4" cy="887.5" r="8.9" fill="#000"/>
<circle cx="544.4" cy="879.2" r="8.9" fill="#000"/>
<circle cx="518.3" cy="901.2" r="8.9" fill="#000"/>
<circle cx="544.4" cy="901.2" r="8.9" fill="#000"/>
<circle cx="583.6" cy="1047.6" r="8.9" fill="#000"/>
<circle cx="609.7" cy="1041.7" r="8.9" fill="#000"/>
<circle cx="583.6" cy="1088" r="8.9" fill="#000"/>
<circle cx="609.7" cy="1088" r="8.9" fill="#000"/>
<text x="204.55" y="1132.55" font-size="49" text-anchor="middle" fill="#000" stroke="#000" stroke-width="0.8" letter-spacing="0.5">***</text>
<text x="335.25" y="1114.25" font-size="49" text-anchor="middle" fill="#000" stroke="#000" stroke-width="0.8" letter-spacing="0.5">***</text>
<text x="402.5" y="837.2" font-size="42" text-anchor="middle" fill="#000">ns</text>
<text x="470.3" y="780.7" font-size="42" text-anchor="middle" fill="#000">ns</text>
<text x="532" y="850.7" font-size="42" text-anchor="middle" fill="#000">ns</text>
<text x="596.25" y="1040.05" font-size="49" text-anchor="middle" fill="#000" stroke="#000" stroke-width="0.8" letter-spacing="0.5">***</text>
<text x="218.3" y="1190.8" font-size="41" text-anchor="end" fill="#000" transform="rotate(-45 218.3 1190.8)">Uninf</text>
<text x="283.6" y="1190.8" font-size="41" text-anchor="end" fill="#000" transform="rotate(-45 283.6 1190.8)"><tspan font-style="italic">wt</tspan></text>
<text x="348.6" y="1190.8" font-size="41" text-anchor="end" fill="#000" transform="rotate(-45 348.6 1190.8)"><tspan class="dl" font-size="40" dy="0.3">Δ</tspan><tspan dx="-0.5" dy="-0.3">4</tspan></text>
<text x="413.7" y="1190.8" font-size="41" text-anchor="end" fill="#000" transform="rotate(-45 413.7 1190.8)"><tspan class="dl" font-size="40" dy="0.3">Δ</tspan><tspan dx="-0.5" dy="-0.3"><tspan font-style="italic">sopE</tspan></tspan></text>
<text x="478.9" y="1190.8" font-size="41" text-anchor="end" fill="#000" transform="rotate(-45 478.9 1190.8)"><tspan class="dl" font-size="40" dy="0.3">Δ</tspan><tspan dx="-0.5" dy="-0.3"><tspan font-style="italic">sopEE2</tspan></tspan></text>
<text x="544.7" y="1190.8" font-size="41" text-anchor="end" fill="#000" transform="rotate(-45 544.7 1190.8)"><tspan class="dl" font-size="40" dy="0.3">Δ</tspan><tspan dx="-0.5" dy="-0.3"><tspan font-style="italic">sopE2</tspan></tspan></text>
<text x="609.4" y="1190.8" font-size="41" text-anchor="end" fill="#000" transform="rotate(-45 609.4 1190.8)"><tspan class="dl" font-size="40" dy="0.3">Δ</tspan><tspan dx="-0.5" dy="-0.3"><tspan font-style="italic">sopB</tspan></tspan></text>
<text x="726.4" y="676" font-size="57.5" text-anchor="start" fill="#000" font-weight="bold">e</text>
<text x="1062.6" y="736.5" font-size="41.5" text-anchor="middle" fill="#231f20">BMMC</text>
<text x="856.4" y="927" font-size="40" text-anchor="middle" fill="#000" transform="rotate(-90 856.4 927)"><tspan font-style="italic">ssaG</tspan>-GFP+ BMMC (%)</text>
<rect x="980.3" y="878.8" width="37" height="248.5" fill="#a27fab" stroke="#000" stroke-width="3"/>
<rect x="1041.5" y="1118.5" width="37" height="8.8" fill="#d3d3d3" stroke="#000" stroke-width="3"/>
<rect x="1103.1" y="963.2" width="37" height="164.1" fill="#d3d3d3" stroke="#000" stroke-width="3"/>
<line x1="958.3" y1="726.55" x2="958.3" y2="1130.05" stroke="#000" stroke-width="5.5" stroke-linecap="butt"/>
<line x1="933.9" y1="1127.3" x2="958.3" y2="1127.3" stroke="#000" stroke-width="5.5" stroke-linecap="butt"/>
<text x="928.7" y="1140.83" font-size="41.5" text-anchor="end" fill="#000">0</text>
<line x1="933.9" y1="1027.8" x2="958.3" y2="1027.8" stroke="#000" stroke-width="5.5" stroke-linecap="butt"/>
<text x="928.7" y="1041.33" font-size="41.5" text-anchor="end" fill="#000">20</text>
<line x1="933.9" y1="928.3" x2="958.3" y2="928.3" stroke="#000" stroke-width="5.5" stroke-linecap="butt"/>
<text x="928.7" y="941.83" font-size="41.5" text-anchor="end" fill="#000">40</text>
<line x1="933.9" y1="828.8" x2="958.3" y2="828.8" stroke="#000" stroke-width="5.5" stroke-linecap="butt"/>
<text x="928.7" y="842.33" font-size="41.5" text-anchor="end" fill="#000">60</text>
<line x1="933.9" y1="729.3" x2="958.3" y2="729.3" stroke="#000" stroke-width="5.5" stroke-linecap="butt"/>
<text x="928.7" y="742.83" font-size="41.5" text-anchor="end" fill="#000">80</text>
<line x1="933.9" y1="1127.3" x2="1166.2" y2="1127.3" stroke="#000" stroke-width="5.5" stroke-linecap="butt"/>
<line x1="998.8" y1="1127.3" x2="998.8" y2="1153" stroke="#000" stroke-width="5.5" stroke-linecap="butt"/>
<line x1="1059.9" y1="1127.3" x2="1059.9" y2="1153" stroke="#000" stroke-width="5.5" stroke-linecap="butt"/>
<line x1="1121.6" y1="1127.3" x2="1121.6" y2="1153" stroke="#000" stroke-width="5.5" stroke-linecap="butt"/>
<line x1="998.8" y1="861.7" x2="998.8" y2="890.2" stroke="#000" stroke-width="3" stroke-linecap="butt"/>
<line x1="988.05" y1="861.7" x2="1009.55" y2="861.7" stroke="#000" stroke-width="3" stroke-linecap="butt"/>
<line x1="988.05" y1="890.2" x2="1009.55" y2="890.2" stroke="#000" stroke-width="3" stroke-linecap="butt"/>
<line x1="1121.6" y1="941.8" x2="1121.6" y2="978.8" stroke="#000" stroke-width="3" stroke-linecap="butt"/>
<line x1="1110.85" y1="941.8" x2="1132.35" y2="941.8" stroke="#000" stroke-width="3" stroke-linecap="butt"/>
<line x1="1110.85" y1="978.8" x2="1132.35" y2="978.8" stroke="#000" stroke-width="3" stroke-linecap="butt"/>
<circle cx="998.8" cy="829.3" r="8.9" fill="#000"/>
<circle cx="998.8" cy="854" r="8.9" fill="#000"/>
<circle cx="987.1" cy="875.8" r="8.9" fill="#000"/>
<circle cx="1010.6" cy="877.3" r="8.9" fill="#000"/>
<circle cx="998.8" cy="885.8" r="8.9" fill="#000"/>
<circle cx="998.8" cy="933.3" r="8.9" fill="#000"/>
<circle cx="1052.9" cy="1112.6" r="8.9" fill="#000"/>
<circle cx="1062.4" cy="1112.6" r="8.9" fill="#000"/>
<circle cx="1073.8" cy="1114.5" r="8.9" fill="#000"/>
<circle cx="1046.3" cy="1119.2" r="8.9" fill="#000"/>
<circle cx="1057.6" cy="1120.2" r="8.9" fill="#000"/>
<circle cx="1068" cy="1119" r="8.9" fill="#000"/>
<circle cx="1121.6" cy="886.2" r="8.9" fill="#000"/>
<circle cx="1121.6" cy="930.4" r="8.9" fill="#000"/>
<circle cx="1133.9" cy="967.4" r="8.9" fill="#000"/>
<circle cx="1110.2" cy="982" r="8.9" fill="#000"/>
<circle cx="1133.9" cy="985.5" r="8.9" fill="#000"/>
<circle cx="1121.6" cy="1013" r="8.9" fill="#000"/>
<text x="1060.75" y="1114.65" font-size="49" text-anchor="middle" fill="#000" stroke="#000" stroke-width="0.8" letter-spacing="0.5">***</text>
<text x="1122.65" y="874.45" font-size="49" text-anchor="middle" fill="#000" stroke="#000" stroke-width="0.8" letter-spacing="0.5">***</text>
<text x="1012.8" y="1187.3" font-size="41" text-anchor="end" fill="#000" transform="rotate(-45 1012.8 1187.3)"><tspan font-style="italic">wt</tspan></text>
<text x="1073.9" y="1187.3" font-size="41" text-anchor="end" fill="#000" transform="rotate(-45 1073.9 1187.3)"><tspan class="dl" font-size="40" dy="0.3">Δ</tspan><tspan dx="-0.5" dy="-0.3">4</tspan></text>
<text x="1135.6" y="1187.3" font-size="41" text-anchor="end" fill="#000" transform="rotate(-45 1135.6 1187.3)"><tspan class="dl" font-size="40" dy="0.3">Δ</tspan><tspan dx="-0.5" dy="-0.3"><tspan font-style="italic">sopB</tspan></tspan></text>
<text x="1357" y="679.7" font-size="57.5" text-anchor="start" fill="#000" font-weight="bold">f</text>
<text x="1730.8" y="733" font-size="41.5" text-anchor="middle" fill="#231f20">PCMC</text>
<text x="1326.6" y="932.3" font-size="41.5" text-anchor="middle" fill="#000" transform="rotate(-90 1326.6 932.3)">IL-6 (pg/ml)</text>
<circle cx="1472.8" cy="1129" r="3.1" fill="#000"/>
<circle cx="1490.2" cy="1129" r="3.1" fill="#000"/>
<circle cx="1507.6" cy="1129" r="3.1" fill="#000"/>
<circle cx="1525" cy="1129" r="3.1" fill="#000"/>
<circle cx="1542.4" cy="1129" r="3.1" fill="#000"/>
<circle cx="1559.8" cy="1129" r="3.1" fill="#000"/>
<circle cx="1577.2" cy="1129" r="3.1" fill="#000"/>
<circle cx="1594.6" cy="1129" r="3.1" fill="#000"/>
<circle cx="1612" cy="1129" r="3.1" fill="#000"/>
<circle cx="1629.4" cy="1129" r="3.1" fill="#000"/>
<circle cx="1646.8" cy="1129" r="3.1" fill="#000"/>
<circle cx="1664.2" cy="1129" r="3.1" fill="#000"/>
<circle cx="1681.6" cy="1129" r="3.1" fill="#000"/>
<circle cx="1699" cy="1129" r="3.1" fill="#000"/>
<circle cx="1716.4" cy="1129" r="3.1" fill="#000"/>
<circle cx="1733.8" cy="1129" r="3.1" fill="#000"/>
<circle cx="1751.2" cy="1129" r="3.1" fill="#000"/>
<circle cx="1768.6" cy="1129" r="3.1" fill="#000"/>
<circle cx="1786" cy="1129" r="3.1" fill="#000"/>
<circle cx="1803.4" cy="1129" r="3.1" fill="#000"/>
<circle cx="1820.8" cy="1129" r="3.1" fill="#000"/>
<circle cx="1838.2" cy="1129" r="3.1" fill="#000"/>
<circle cx="1855.6" cy="1129" r="3.1" fill="#000"/>
<circle cx="1873" cy="1129" r="3.1" fill="#000"/>
<circle cx="1890.4" cy="1129" r="3.1" fill="#000"/>
<circle cx="1907.8" cy="1129" r="3.1" fill="#000"/>
<circle cx="1925.2" cy="1129" r="3.1" fill="#000"/>
<circle cx="1942.6" cy="1129" r="3.1" fill="#000"/>
<circle cx="1960" cy="1129" r="3.1" fill="#000"/>
<circle cx="1977.4" cy="1129" r="3.1" fill="#000"/>
<circle cx="1994.8" cy="1129" r="3.1" fill="#000"/>
<rect x="1558.35" y="944.7" width="37.5" height="186.8" fill="#a27fab" stroke="#000" stroke-width="3"/>
<rect x="1746.75" y="1000" width="37.5" height="131.5" fill="#d3d3d3" stroke="#000" stroke-width="3"/>
<rect x="1872.05" y="925.8" width="37.5" height="205.7" fill="#d3d3d3" stroke="#000" stroke-width="3"/>
<rect x="1934.75" y="1108.5" width="37.5" height="23" fill="#d3d3d3" stroke="#000" stroke-width="3"/>
<circle cx="1560.5" cy="1129" r="3.1" fill="#2b0b35"/>
<circle cx="1577.2" cy="1129" r="3.1" fill="#2b0b35"/>
<circle cx="1593.6" cy="1129" r="3.1" fill="#2b0b35"/>
<line x1="1472.8" y1="729.45" x2="1472.8" y2="1134.25" stroke="#000" stroke-width="5.5" stroke-linecap="butt"/>
<line x1="1448.4" y1="1131.5" x2="1472.8" y2="1131.5" stroke="#000" stroke-width="5.5" stroke-linecap="butt"/>
<text x="1443.3" y="1145.03" font-size="41.5" text-anchor="end" fill="#000">0</text>
<line x1="1448.4" y1="1051.8" x2="1472.8" y2="1051.8" stroke="#000" stroke-width="5.5" stroke-linecap="butt"/>
<text x="1443.3" y="1065.33" font-size="41.5" text-anchor="end" fill="#000">500</text>
<line x1="1448.4" y1="972.2" x2="1472.8" y2="972.2" stroke="#000" stroke-width="5.5" stroke-linecap="butt"/>
<text x="1443.3" y="985.73" font-size="41.5" text-anchor="end" fill="#000">1000</text>
<line x1="1448.4" y1="892.4" x2="1472.8" y2="892.4" stroke="#000" stroke-width="5.5" stroke-linecap="butt"/>
<text x="1443.3" y="905.93" font-size="41.5" text-anchor="end" fill="#000">1500</text>
<line x1="1448.4" y1="812.7" x2="1472.8" y2="812.7" stroke="#000" stroke-width="5.5" stroke-linecap="butt"/>
<text x="1443.3" y="826.23" font-size="41.5" text-anchor="end" fill="#000">2000</text>
<line x1="1448.4" y1="732.2" x2="1472.8" y2="732.2" stroke="#000" stroke-width="5.5" stroke-linecap="butt"/>
<text x="1443.3" y="745.73" font-size="41.5" text-anchor="end" fill="#000">2500</text>
<line x1="1448.4" y1="1131.5" x2="2002" y2="1131.5" stroke="#000" stroke-width="5.5" stroke-linecap="butt"/>
<line x1="1513.5" y1="1131.5" x2="1513.5" y2="1155.5" stroke="#000" stroke-width="5.5" stroke-linecap="butt"/>
<line x1="1576.3" y1="1131.5" x2="1576.3" y2="1155.5" stroke="#000" stroke-width="5.5" stroke-linecap="butt"/>
<line x1="1639.3" y1="1131.5" x2="1639.3" y2="1155.5" stroke="#000" stroke-width="5.5" stroke-linecap="butt"/>
<line x1="1702" y1="1131.5" x2="1702" y2="1155.5" stroke="#000" stroke-width="5.5" stroke-linecap="butt"/>
<line x1="1764.9" y1="1131.5" x2="1764.9" y2="1155.5" stroke="#000" stroke-width="5.5" stroke-linecap="butt"/>
<line x1="1827.8" y1="1131.5" x2="1827.8" y2="1155.5" stroke="#000" stroke-width="5.5" stroke-linecap="butt"/>
<line x1="1890.6" y1="1131.5" x2="1890.6" y2="1155.5" stroke="#000" stroke-width="5.5" stroke-linecap="butt"/>
<line x1="1953.6" y1="1131.5" x2="1953.6" y2="1155.5" stroke="#000" stroke-width="5.5" stroke-linecap="butt"/>
<line x1="1577.3" y1="877.9" x2="1577.3" y2="1006.5" stroke="#000" stroke-width="3" stroke-linecap="butt"/>
<line x1="1566.55" y1="877.9" x2="1588.05" y2="877.9" stroke="#000" stroke-width="3" stroke-linecap="butt"/>
<line x1="1566.55" y1="1006.5" x2="1588.05" y2="1006.5" stroke="#000" stroke-width="3" stroke-linecap="butt"/>
<line x1="1765.7" y1="963.9" x2="1765.7" y2="1030.6" stroke="#000" stroke-width="3" stroke-linecap="butt"/>
<line x1="1754.95" y1="963.9" x2="1776.45" y2="963.9" stroke="#000" stroke-width="3" stroke-linecap="butt"/>
<line x1="1754.95" y1="1030.6" x2="1776.45" y2="1030.6" stroke="#000" stroke-width="3" stroke-linecap="butt"/>
<line x1="1890.8" y1="874.9" x2="1890.8" y2="973.4" stroke="#000" stroke-width="3" stroke-linecap="butt"/>
<line x1="1880.05" y1="874.9" x2="1901.55" y2="874.9" stroke="#000" stroke-width="3" stroke-linecap="butt"/>
<line x1="1880.05" y1="973.4" x2="1901.55" y2="973.4" stroke="#000" stroke-width="3" stroke-linecap="butt"/>
<circle cx="1502.5" cy="1131" r="8.9" fill="#000"/>
<circle cx="1510.5" cy="1131" r="8.9" fill="#000"/>
<circle cx="1518.5" cy="1131" r="8.9" fill="#000"/>
<circle cx="1526.5" cy="1131" r="8.9" fill="#000"/>
<circle cx="1628.5" cy="1129" r="8.9" fill="#000"/>
<circle cx="1636" cy="1128" r="8.9" fill="#000"/>
<circle cx="1644" cy="1128" r="8.9" fill="#000"/>
<circle cx="1650.8" cy="1129" r="8.9" fill="#000"/>
<circle cx="1691.3" cy="1127" r="8.9" fill="#000"/>
<circle cx="1699" cy="1124.5" r="8.9" fill="#000"/>
<circle cx="1707" cy="1124.5" r="8.9" fill="#000"/>
<circle cx="1714.4" cy="1125.5" r="8.9" fill="#000"/>
<circle cx="1816.1" cy="1130.7" r="8.9" fill="#000"/>
<circle cx="1823.2" cy="1120" r="8.9" fill="#000"/>
<circle cx="1831.5" cy="1128.3" r="8.9" fill="#000"/>
<circle cx="1841" cy="1123.6" r="8.9" fill="#000"/>
<circle cx="1564.9" cy="833.3" r="8.9" fill="#000"/>
<circle cx="1589.1" cy="830" r="8.9" fill="#000"/>
<circle cx="1564.9" cy="1055.4" r="8.9" fill="#000"/>
<circle cx="1589.1" cy="1051.1" r="8.9" fill="#000"/>
<circle cx="1765.1" cy="916" r="8.9" fill="#000"/>
<circle cx="1765.1" cy="981.2" r="8.9" fill="#000"/>
<circle cx="1765.1" cy="1019.2" r="8.9" fill="#000"/>
<circle cx="1765.1" cy="1073.8" r="8.9" fill="#000"/>
<circle cx="1890.9" cy="793" r="8.9" fill="#000"/>
<circle cx="1890.9" cy="903.6" r="8.9" fill="#000"/>
<circle cx="1890.9" cy="982.4" r="8.9" fill="#000"/>
<circle cx="1890.9" cy="1015.6" r="8.9" fill="#000"/>
<circle cx="1941.9" cy="1091.5" r="8.9" fill="#000"/>
<circle cx="1953.7" cy="1103.4" r="8.9" fill="#000"/>
<circle cx="1966.8" cy="1108.2" r="8.9" fill="#000"/>
<circle cx="1941.9" cy="1120" r="8.9" fill="#000"/>
<text x="1515.35" y="1130.15" font-size="49" text-anchor="middle" fill="#000" stroke="#000" stroke-width="0.8" letter-spacing="0.5">**</text>
<text x="1637.55" y="1127.75" font-size="49" text-anchor="middle" fill="#000" stroke="#000" stroke-width="0.8" letter-spacing="0.5">**</text>
<text x="1701.55" y="1124.65" font-size="49" text-anchor="middle" fill="#000" stroke="#000" stroke-width="0.8" letter-spacing="0.5">**</text>
<text x="1768.4" y="889.4" font-size="42" text-anchor="middle" fill="#000">ns</text>
<text x="1827.05" y="1126.65" font-size="49" text-anchor="middle" fill="#000" stroke="#000" stroke-width="0.8" letter-spacing="0.5">**</text>
<text x="1892.3" y="769.3" font-size="42" text-anchor="middle" fill="#000">ns</text>
<text x="1955.15" y="1092.95" font-size="49" text-anchor="middle" fill="#000" stroke="#000" stroke-width="0.8" letter-spacing="0.5">**</text>
<text x="1527.5" y="1191.5" font-size="41" text-anchor="end" fill="#000" transform="rotate(-45 1527.5 1191.5)">Uninf</text>
<text x="1590.3" y="1191.5" font-size="41" text-anchor="end" fill="#000" transform="rotate(-45 1590.3 1191.5)"><tspan font-style="italic">wt</tspan></text>
<text x="1653.3" y="1191.5" font-size="41" text-anchor="end" fill="#000" transform="rotate(-45 1653.3 1191.5)"><tspan class="dl" font-size="40" dy="0.3">Δ</tspan><tspan dx="-0.5" dy="-0.3"><tspan font-style="italic">invG</tspan></tspan></text>
<text x="1716" y="1191.5" font-size="41" text-anchor="end" fill="#000" transform="rotate(-45 1716 1191.5)"><tspan class="dl" font-size="40" dy="0.3">Δ</tspan><tspan dx="-0.5" dy="-0.3">4</tspan></text>
<text x="1778.9" y="1191.5" font-size="41" text-anchor="end" fill="#000" transform="rotate(-45 1778.9 1191.5)"><tspan class="dl" font-size="40" dy="0.3">Δ</tspan><tspan dx="-0.5" dy="-0.3"><tspan font-style="italic">sipA</tspan></tspan></text>
<text x="1841.8" y="1191.5" font-size="41" text-anchor="end" fill="#000" transform="rotate(-45 1841.8 1191.5)"><tspan class="dl" font-size="40" dy="0.3">Δ</tspan><tspan dx="-0.5" dy="-0.3"><tspan font-style="italic">sopBEE2</tspan></tspan></text>
<text x="1904.6" y="1191.5" font-size="41" text-anchor="end" fill="#000" transform="rotate(-45 1904.6 1191.5)"><tspan class="dl" font-size="40" dy="0.3">Δ</tspan><tspan dx="-0.5" dy="-0.3"><tspan font-style="italic">sptP</tspan></tspan></text>
<text x="1967.6" y="1191.5" font-size="41" text-anchor="end" fill="#000" transform="rotate(-45 1967.6 1191.5)"><tspan class="dl" font-size="40" dy="0.3">Δ</tspan><tspan dx="-0.5" dy="-0.3"><tspan font-style="italic">sopB</tspan></tspan></text>
<text x="45.8" y="1280" font-size="57.5" text-anchor="start" fill="#000" font-weight="bold">g</text>
<text x="419.2" y="1361.8" font-size="41.5" text-anchor="middle" fill="#231f20">PCMC</text>
<text x="36.4" y="1534.1" font-size="41.5" text-anchor="middle" fill="#000" transform="rotate(-90 36.4 1534.1)"><tspan font-style="italic">Il6</tspan> (fold change)</text>
<rect x="247.15" y="1602.1" width="37.5" height="127.4" fill="#a27fab" stroke="#000" stroke-width="3"/>
<rect x="435.45" y="1627.3" width="37.5" height="102.2" fill="#d3d3d3" stroke="#000" stroke-width="3"/>
<rect x="561.05" y="1517.5" width="37.5" height="212" fill="#d3d3d3" stroke="#000" stroke-width="3"/>
<rect x="623.95" y="1702" width="37.5" height="27.5" fill="#d3d3d3" stroke="#000" stroke-width="3"/>
<rect x="183.75" y="1728.5" width="37.5" height="1" fill="#d3d3d3" stroke="#000" stroke-width="3"/>
<rect x="309.55" y="1724.5" width="37.5" height="5" fill="#d3d3d3" stroke="#000" stroke-width="3"/>
<rect x="372.55" y="1722.5" width="37.5" height="7" fill="#d3d3d3" stroke="#000" stroke-width="3"/>
<rect x="498.05" y="1721.5" width="37.5" height="8" fill="#d3d3d3" stroke="#000" stroke-width="3"/>
<line x1="162.2" y1="1328.35" x2="162.2" y2="1732.25" stroke="#000" stroke-width="5.5" stroke-linecap="butt"/>
<line x1="137.8" y1="1729.5" x2="162.2" y2="1729.5" stroke="#000" stroke-width="5.5" stroke-linecap="butt"/>
<text x="131.8" y="1743.03" font-size="41.5" text-anchor="end" fill="#000">0</text>
<line x1="137.8" y1="1630.4" x2="162.2" y2="1630.4" stroke="#000" stroke-width="5.5" stroke-linecap="butt"/>
<text x="131.8" y="1643.93" font-size="41.5" text-anchor="end" fill="#000">100</text>
<line x1="137.8" y1="1531" x2="162.2" y2="1531" stroke="#000" stroke-width="5.5" stroke-linecap="butt"/>
<text x="131.8" y="1544.53" font-size="41.5" text-anchor="end" fill="#000">200</text>
<line x1="137.8" y1="1431" x2="162.2" y2="1431" stroke="#000" stroke-width="5.5" stroke-linecap="butt"/>
<text x="131.8" y="1444.53" font-size="41.5" text-anchor="end" fill="#000">300</text>
<line x1="137.8" y1="1331.1" x2="162.2" y2="1331.1" stroke="#000" stroke-width="5.5" stroke-linecap="butt"/>
<text x="131.8" y="1344.63" font-size="41.5" text-anchor="end" fill="#000">400</text>
<line x1="137.8" y1="1729.5" x2="688.9" y2="1729.5" stroke="#000" stroke-width="5.5" stroke-linecap="butt"/>
<line x1="202.5" y1="1729.5" x2="202.5" y2="1753.5" stroke="#000" stroke-width="5.5" stroke-linecap="butt"/>
<line x1="265.2" y1="1729.5" x2="265.2" y2="1753.5" stroke="#000" stroke-width="5.5" stroke-linecap="butt"/>
<line x1="328.3" y1="1729.5" x2="328.3" y2="1753.5" stroke="#000" stroke-width="5.5" stroke-linecap="butt"/>
<line x1="391.3" y1="1729.5" x2="391.3" y2="1753.5" stroke="#000" stroke-width="5.5" stroke-linecap="butt"/>
<line x1="454.1" y1="1729.5" x2="454.1" y2="1753.5" stroke="#000" stroke-width="5.5" stroke-linecap="butt"/>
<line x1="516.8" y1="1729.5" x2="516.8" y2="1753.5" stroke="#000" stroke-width="5.5" stroke-linecap="butt"/>
<line x1="579.8" y1="1729.5" x2="579.8" y2="1753.5" stroke="#000" stroke-width="5.5" stroke-linecap="butt"/>
<line x1="642.5" y1="1729.5" x2="642.5" y2="1753.5" stroke="#000" stroke-width="5.5" stroke-linecap="butt"/>
<line x1="266.1" y1="1577.9" x2="266.1" y2="1621.5" stroke="#000" stroke-width="3" stroke-linecap="butt"/>
<line x1="255.35" y1="1577.9" x2="276.85" y2="1577.9" stroke="#000" stroke-width="3" stroke-linecap="butt"/>
<line x1="255.35" y1="1621.5" x2="276.85" y2="1621.5" stroke="#000" stroke-width="3" stroke-linecap="butt"/>
<line x1="454.3" y1="1589.1" x2="454.3" y2="1661.1" stroke="#000" stroke-width="3" stroke-linecap="butt"/>
<line x1="443.55" y1="1589.1" x2="465.05" y2="1589.1" stroke="#000" stroke-width="3" stroke-linecap="butt"/>
<line x1="443.55" y1="1661.1" x2="465.05" y2="1661.1" stroke="#000" stroke-width="3" stroke-linecap="butt"/>
<line x1="579.8" y1="1473.1" x2="579.8" y2="1556.7" stroke="#000" stroke-width="3" stroke-linecap="butt"/>
<line x1="569.05" y1="1473.1" x2="590.55" y2="1473.1" stroke="#000" stroke-width="3" stroke-linecap="butt"/>
<line x1="569.05" y1="1556.7" x2="590.55" y2="1556.7" stroke="#000" stroke-width="3" stroke-linecap="butt"/>
<line x1="642.8" y1="1692.4" x2="642.8" y2="1708" stroke="#000" stroke-width="3" stroke-linecap="butt"/>
<line x1="632.05" y1="1692.4" x2="653.55" y2="1692.4" stroke="#000" stroke-width="3" stroke-linecap="butt"/>
<line x1="632.05" y1="1708" x2="653.55" y2="1708" stroke="#000" stroke-width="3" stroke-linecap="butt"/>
<circle cx="191.5" cy="1728" r="8.9" fill="#000"/>
<circle cx="199" cy="1728" r="8.9" fill="#000"/>
<circle cx="207" cy="1728" r="8.9" fill="#000"/>
<circle cx="215" cy="1728" r="8.9" fill="#000"/>
<circle cx="316.6" cy="1725.9" r="8.9" fill="#000"/>
<circle cx="324.7" cy="1722.4" r="8.9" fill="#000"/>
<circle cx="340.9" cy="1722.4" r="8.9" fill="#000"/>
<circle cx="332" cy="1724" r="8.9" fill="#000"/>
<circle cx="380.5" cy="1724" r="8.9" fill="#000"/>
<circle cx="388" cy="1721" r="8.9" fill="#000"/>
<circle cx="396" cy="1721" r="8.9" fill="#000"/>
<circle cx="403.3" cy="1721" r="8.9" fill="#000"/>
<circle cx="504.4" cy="1723.7" r="8.9" fill="#000"/>
<circle cx="513.7" cy="1717.9" r="8.9" fill="#000"/>
<circle cx="528.8" cy="1719" r="8.9" fill="#000"/>
<circle cx="521" cy="1722" r="8.9" fill="#000"/>
<circle cx="266" cy="1557" r="8.9" fill="#000"/>
<circle cx="253.9" cy="1583.2" r="8.9" fill="#000"/>
<circle cx="278.3" cy="1599.5" r="8.9" fill="#000"/>
<circle cx="266" cy="1659.8" r="8.9" fill="#000"/>
<circle cx="454.1" cy="1520.7" r="8.9" fill="#000"/>
<circle cx="454.1" cy="1632.8" r="8.9" fill="#000"/>
<circle cx="442.5" cy="1676.8" r="8.9" fill="#000"/>
<circle cx="466.1" cy="1669.2" r="8.9" fill="#000"/>
<circle cx="579.8" cy="1423.2" r="8.9" fill="#000"/>
<circle cx="579.8" cy="1465" r="8.9" fill="#000"/>
<circle cx="567.5" cy="1591.5" r="8.9" fill="#000"/>
<circle cx="592.1" cy="1578.7" r="8.9" fill="#000"/>
<circle cx="642.5" cy="1679.6" r="8.9" fill="#000"/>
<circle cx="642.5" cy="1700.5" r="8.9" fill="#000"/>
<circle cx="630.9" cy="1714.4" r="8.9" fill="#000"/>
<circle cx="655.2" cy="1707" r="8.9" fill="#000"/>
<text x="201.25" y="1718.85" font-size="49" text-anchor="middle" fill="#000" stroke="#000" stroke-width="0.8" letter-spacing="0.5">***</text>
<text x="326.75" y="1718.85" font-size="49" text-anchor="middle" fill="#000" stroke="#000" stroke-width="0.8" letter-spacing="0.5">***</text>
<text x="390.95" y="1718.85" font-size="49" text-anchor="middle" fill="#000" stroke="#000" stroke-width="0.8" letter-spacing="0.5">***</text>
<text x="457.7" y="1492.9" font-size="42" text-anchor="middle" fill="#000">ns</text>
<text x="517.95" y="1717.85" font-size="49" text-anchor="middle" fill="#000" stroke="#000" stroke-width="0.8" letter-spacing="0.5">***</text>
<text x="580.4" y="1401.2" font-size="42" text-anchor="middle" fill="#000">ns</text>
<text x="642.65" y="1679.05" font-size="49" text-anchor="middle" fill="#000" stroke="#000" stroke-width="0.8" letter-spacing="0.5">***</text>
<text x="216.5" y="1789.5" font-size="41" text-anchor="end" fill="#000" transform="rotate(-45 216.5 1789.5)">Uninf</text>
<text x="279.2" y="1789.5" font-size="41" text-anchor="end" fill="#000" transform="rotate(-45 279.2 1789.5)"><tspan font-style="italic">wt</tspan></text>
<text x="342.3" y="1789.5" font-size="41" text-anchor="end" fill="#000" transform="rotate(-45 342.3 1789.5)"><tspan class="dl" font-size="40" dy="0.3">Δ</tspan><tspan dx="-0.5" dy="-0.3"><tspan font-style="italic">invG</tspan></tspan></text>
<text x="405.3" y="1789.5" font-size="41" text-anchor="end" fill="#000" transform="rotate(-45 405.3 1789.5)"><tspan class="dl" font-size="40" dy="0.3">Δ</tspan><tspan dx="-0.5" dy="-0.3">4</tspan></text>
<text x="468.1" y="1789.5" font-size="41" text-anchor="end" fill="#000" transform="rotate(-45 468.1 1789.5)"><tspan class="dl" font-size="40" dy="0.3">Δ</tspan><tspan dx="-0.5" dy="-0.3"><tspan font-style="italic">sipA</tspan></tspan></text>
<text x="530.8" y="1789.5" font-size="41" text-anchor="end" fill="#000" transform="rotate(-45 530.8 1789.5)"><tspan class="dl" font-size="40" dy="0.3">Δ</tspan><tspan dx="-0.5" dy="-0.3"><tspan font-style="italic">sopBEE2</tspan></tspan></text>
<text x="593.8" y="1789.5" font-size="41" text-anchor="end" fill="#000" transform="rotate(-45 593.8 1789.5)"><tspan class="dl" font-size="40" dy="0.3">Δ</tspan><tspan dx="-0.5" dy="-0.3"><tspan font-style="italic">sptP</tspan></tspan></text>
<text x="656.5" y="1789.5" font-size="41" text-anchor="end" fill="#000" transform="rotate(-45 656.5 1789.5)"><tspan class="dl" font-size="40" dy="0.3">Δ</tspan><tspan dx="-0.5" dy="-0.3"><tspan font-style="italic">sopB</tspan></tspan></text>
</svg>
</body></html>
